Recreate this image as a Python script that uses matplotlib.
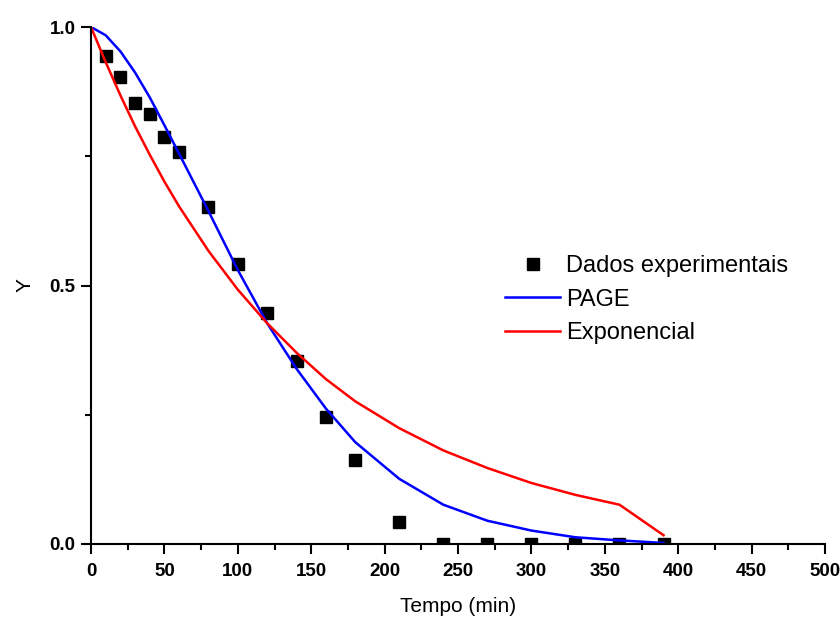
import matplotlib.pyplot as plt
from matplotlib.ticker import MultipleLocator

plt.rcParams['font.family'] = ['Liberation Sans', 'DejaVu Sans']

# Experimental data
tempo = [0, 10, 20, 30, 40, 50, 60, 80, 100, 120, 140, 160, 180, 210,
         240, 270, 300, 330, 360, 390]
y_exp = [1.0, 0.944, 0.903, 0.853, 0.832, 0.788, 0.759, 0.651, 0.542, 0.446,
         0.353, 0.245, 0.162, 0.042, 0.0, 0.0, 0.0, 0.0, 0.0, 0.0]

# Model curves (at the same times)
y_page = [1.0, 0.984, 0.953, 0.912, 0.864, 0.810, 0.755, 0.644, 0.530, 0.427,
          0.339, 0.262, 0.197, 0.126, 0.076, 0.045, 0.026, 0.013, 0.007, 0.002]
y_expo = [1.0, 0.932, 0.868, 0.808, 0.753, 0.701, 0.653, 0.567, 0.492, 0.427,
          0.370, 0.319, 0.276, 0.224, 0.181, 0.147, 0.118, 0.095, 0.076, 0.017]

fig = plt.figure(figsize=(8.4, 6.19), dpi=100)
ax = fig.add_axes([91 / 840, 1 - 544 / 619, 734 / 840, 517 / 619])

ax.plot(tempo[1:], y_exp[1:], 's', color='black', markersize=8, label='Dados experimentais')
ax.plot(tempo, y_page, color='#0000ff', lw=1.8, label='PAGE')
ax.plot(tempo, y_expo, color='#ff0000', lw=1.8, label='Exponencial')

ax.set_xlim(0, 500)
ax.set_ylim(0, 1.0)
ax.xaxis.set_major_locator(MultipleLocator(50))
ax.xaxis.set_minor_locator(MultipleLocator(25))
ax.yaxis.set_major_locator(MultipleLocator(0.5))
ax.yaxis.set_minor_locator(MultipleLocator(0.25))
ax.yaxis.set_major_formatter(plt.FormatStrFormatter('%.1f'))

for s in ['top', 'right']:
    ax.spines[s].set_visible(False)
for s in ['left', 'bottom']:
    ax.spines[s].set_linewidth(1.5)
ax.tick_params(which='major', direction='out', length=7, width=1.5, labelsize=13.5)
ax.tick_params(axis='x', which='major', pad=7)
ax.tick_params(axis='y', which='major', pad=4)
ax.tick_params(which='minor', direction='out', length=4, width=1.5)
for lab in ax.get_xticklabels() + ax.get_yticklabels():
    lab.set_fontweight('bold')

ax.set_xlabel('Tempo (min)', fontsize=15, labelpad=12)
ax.set_ylabel('Y', fontsize=15, labelpad=11)

ax.legend(loc='upper left', bbox_to_anchor=(505 / 840, 1 - 255 / 619),
          bbox_transform=fig.transFigure, frameon=False, fontsize=17,
          handlelength=2.35, handletextpad=0.25, labelspacing=0.49,
          borderpad=0, borderaxespad=0)

fig.savefig('out.png', dpi=100)
